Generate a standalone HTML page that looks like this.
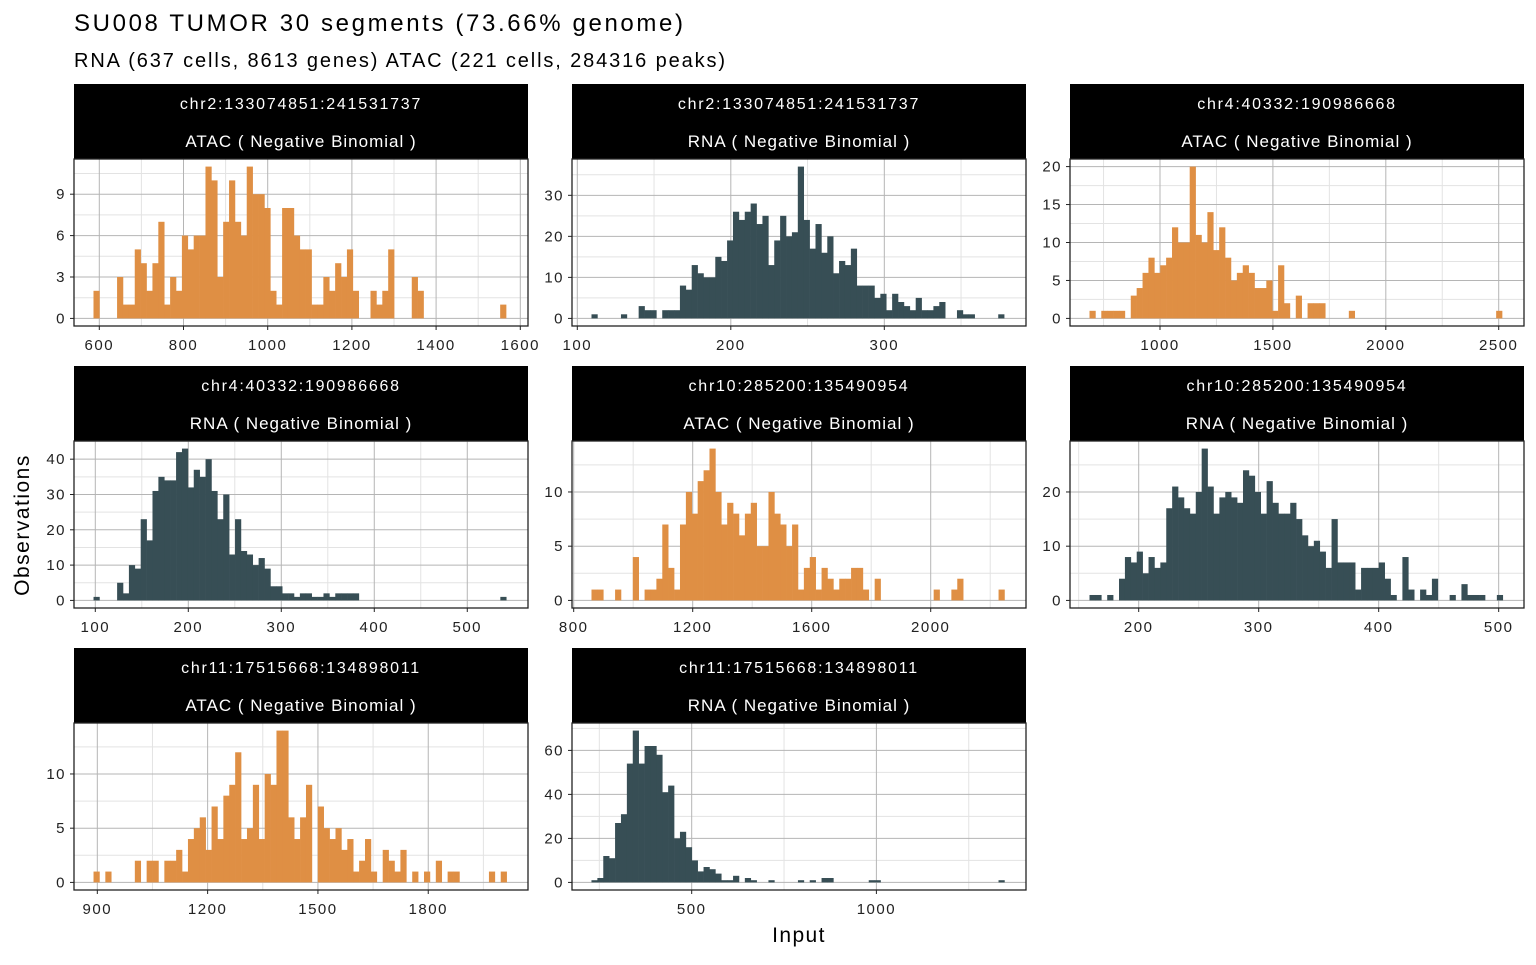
<!DOCTYPE html>
<html><head><meta charset="utf-8"><style>
body{margin:0;background:#fff;width:1536px;height:960px;overflow:hidden;font-family:"Liberation Sans",sans-serif}
</style></head><body>
<svg id="chart" width="1536" height="960" xmlns="http://www.w3.org/2000/svg" font-family="Liberation Sans, sans-serif">
<text x="74" y="31" font-size="24" fill="#000" textLength="609" lengthAdjust="spacing">SU008 TUMOR 30 segments (73.66% genome)</text>
<text x="74" y="67" font-size="20" fill="#000" textLength="651" lengthAdjust="spacing">RNA (637 cells, 8613 genes) ATAC (221 cells, 284316 peaks)</text>
<text transform="translate(29,525) rotate(-90)" text-anchor="middle" font-size="21" letter-spacing="1.5" fill="#000">Observations</text>
<text x="799" y="942" text-anchor="middle" font-size="21" letter-spacing="1.4" fill="#000">Input</text>
</svg>
<script>
const regions = ["chr2:133074851:241531737","chr2:133074851:241531737","chr4:40332:190986668","chr4:40332:190986668","chr10:285200:135490954","chr10:285200:135490954","chr11:17515668:134898011","chr11:17515668:134898011"];
const modalities = ["ATAC","RNA","ATAC","RNA","ATAC","RNA","ATAC","RNA"];
const binStarts = [586.2,109.25,687.8,98.1,859.8,159,889.7,228.7];
const binWidths = [14.0,3.84,26.1,6.34,19.83,4.92,16.05,15.97];
const xDomains = [[539.9,1618.3],[96.55,392.3],[601.4,2612],[77.1,565.3],[794.3,2320.3],[142.75,521.1],[836.6,2071.3],[176,1405]];
const xTicks = [[600,800,1000,1200,1400,1600],[100,200,300],[1000,1500,2000,2500],[100,200,300,400,500],[800,1200,1600,2000],[200,300,400,500],[900,1200,1500,1800],[500,1000]];
const xMinor = [[700,900,1100,1300,1500],[150,250,350],[750,1250,1750,2250],[150,250,350,450],[1000,1400,1800,2200],[150,250,350,450],[1050,1350,1650,1950],[250,750,1250]];
const yTicks = [[0,3,6,9],[0,10,20,30],[0,5,10,15,20],[0,10,20,30,40],[0,5,10],[0,10,20],[0,5,10],[0,20,40,60]];
const counts1 = [2,0,0,0,3,1,1,5,4,2,4,7,1,3,2,6,5,6,6,11,10,3,7,10,7,6,11,9,9,8,2,1,8,8,6,5,5,1,1,3,2,4,3,5,2,0,0,2,1,2,5,0,0,0,3,2,0,0,0,0,0,0,0,0,0,0,0,0,0,1];
const counts2 = [1,0,0,0,0,1,0,0,3,2,2,0,2,2,2,8,7,13,11,10,10,15,14,19,26,24,26,28,23,25,13,19,25,20,21,37,24,17,23,16,20,11,14,13,17,8,8,8,5,6,2,6,4,3,2,5,2,2,3,4,0,0,2,1,1,0,0,0,0,1];
const counts3 = [1,0,1,1,1,1,0,3,4,6,8,6,7,8,12,10,10,20,11,10,14,9,12,8,5,6,7,6,4,4,5,1,7,2,0,3,0,2,2,2,0,0,0,0,1,0,0,0,0,0,0,0,0,0,0,0,0,0,0,0,0,0,0,0,0,0,0,0,0,1];
const counts4 = [1,0,0,0,5,2,10,9,23,17,31,35,34,34,42,43,32,37,35,40,31,23,30,13,23,14,13,10,12,9,4,4,2,2,1,2,2,1,1,2,1,2,2,2,2,0,0,0,0,0,0,0,0,0,0,0,0,0,0,0,0,0,0,0,0,0,0,0,0,1];
const counts5 = [1,1,0,0,1,0,0,4,0,1,1,2,7,3,1,7,10,8,11,12,14,10,7,9,8,6,8,9,5,5,10,8,7,5,7,1,3,4,1,3,2,1,2,2,3,3,1,0,2,0,0,0,0,0,0,0,0,0,1,0,0,1,2,0,0,0,0,0,0,1];
const counts6 = [1,1,0,1,0,4,8,7,9,5,8,6,7,17,21,19,17,16,20,28,21,16,19,20,19,18,24,23,20,16,22,18,16,16,18,15,12,10,11,9,6,15,7,7,7,2,6,6,6,7,4,1,0,8,2,0,2,1,4,0,0,1,0,3,1,1,1,0,0,1];
const counts7 = [1,0,1,0,0,0,0,2,0,2,2,0,2,2,3,1,4,5,6,3,7,4,8,9,12,4,5,9,4,10,9,14,14,6,4,6,9,0,7,5,4,5,3,4,1,2,4,1,0,3,2,1,3,0,1,0,1,0,2,0,1,1,0,0,0,0,0,1,0,1];
const counts8 = [1,2,12,11,27,31,54,69,54,62,62,58,41,44,20,23,16,10,5,7,6,4,1,1,3,0,2,1,0,0,1,0,0,0,0,1,0,1,0,2,2,0,0,0,0,0,0,1,1,0,0,0,0,0,0,0,0,0,0,0,0,0,0,0,0,0,0,0,0,1];
const allCounts = [counts1,counts2,counts3,counts4,counts5,counts6,counts7,counts8];

const NS = "http://www.w3.org/2000/svg";
const svg = document.getElementById("chart");
const colX = [74,572,1070], rowY = [84,366,648];
const W = 454, STRIP = 75, PH = 167;
function mk(tag, attrs, parent){
  const e = document.createElementNS(NS, tag);
  for (const k in attrs) e.setAttribute(k, attrs[k]);
  (parent||svg).appendChild(e);
  return e;
}
allCounts.forEach((counts, p) => {
  const px = colX[p % 3], sy = rowY[Math.floor(p / 3)];
  const top = sy + STRIP, bot = top + PH;
  const g = mk("g", {});
  
  
  const [d0, d1] = xDomains[p];
  const xs = v => px + (v - d0) / (d1 - d0) * W;
  const maxC = Math.max(...counts);
  const y0 = -0.05 * maxC, y1 = 1.05 * maxC;
  const ys = v => bot - (v - y0) / (y1 - y0) * PH;
  const st = mk("rect", {x: px, y: sy, width: W, height: STRIP, fill: "#000"}, g);
  
  
  const t1 = mk("text", {x: px + W / 2, y: sy + 25, "text-anchor": "middle", "font-size": 16, "letter-spacing": 1.75, fill: "#fff"}, g);
  t1.textContent = regions[p];
  
  
  const t2 = mk("text", {x: px + W / 2, y: sy + 63, "text-anchor": "middle", "font-size": 17, "letter-spacing": 1, fill: "#fff"}, g);
  t2.textContent = modalities[p] + " ( Negative Binomial )";
  
  
  const yt = yTicks[p];
  const step = yt[1] - yt[0];
  for (let v = step / 2; v < y1; v += step) mk("line", {x1: px, x2: px + W, y1: ys(v), y2: ys(v), stroke: "#e3e3e3", "stroke-width": 1}, g);
  xMinor[p].forEach(v => { if (xs(v) > px && xs(v) < px + W) mk("line", {x1: xs(v), x2: xs(v), y1: top, y2: bot, stroke: "#e3e3e3", "stroke-width": 1}, g); });
  yt.forEach(v => mk("line", {x1: px, x2: px + W, y1: ys(v), y2: ys(v), stroke: "#b5b5b5", "stroke-width": 1}, g));
  xTicks[p].forEach(v => mk("line", {x1: xs(v), x2: xs(v), y1: top, y2: bot, stroke: "#b5b5b5", "stroke-width": 1}, g));
  const color = modalities[p] === "ATAC" ? "#DF8F44" : "#374E55";
  counts.forEach((c, i) => {
    if (!c) return;
    const xa = xs(binStarts[p] + i * binWidths[p]), xb = xs(binStarts[p] + (i + 1) * binWidths[p]);
    const r = mk("rect", {x: xa, y: ys(c), width: xb - xa + 0.3, height: ys(0) - ys(c), fill: color}, g);
    
    
  });
  const fr = mk("rect", {x: px, y: top, width: W, height: PH, fill: "none", stroke: "#222", "stroke-width": 1.3}, g);
  
  
  yt.forEach(v => {
    mk("line", {x1: px - 4, x2: px, y1: ys(v), y2: ys(v), stroke: "#222"}, g);
    const tl = mk("text", {x: px - 8, y: ys(v) + 5, "text-anchor": "end", "font-size": 15, "letter-spacing": 1.5, fill: "#222"}, g);
    tl.textContent = v;
    
    
  });
  xTicks[p].forEach(v => {
    mk("line", {x1: xs(v), x2: xs(v), y1: bot, y2: bot + 4, stroke: "#222"}, g);
    const tl = mk("text", {x: xs(v), y: bot + 24, "text-anchor": "middle", "font-size": 15, "letter-spacing": 1.5, fill: "#222"}, g);
    tl.textContent = v;
    
    
  });
});
</script>
</body></html>
